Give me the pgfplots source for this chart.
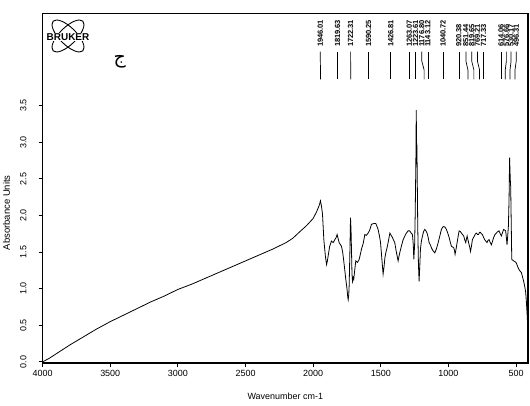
\documentclass[border=0pt]{standalone}
\usepackage{fontspec}
\setmainfont{Liberation Sans}
\TeXXeTstate=1
\newfontfamily\arabicfont[Script=Arabic]{DejaVu Sans}
\usepackage{pgfplots}
\usepackage{pgfplotstable}
\pgfplotsset{compat=1.18}

\pgfplotstableread{
wn A
4000 0.00
3950 0.05
3900 0.11
3800 0.23
3700 0.34
3600 0.45
3500 0.55
3400 0.64
3300 0.73
3200 0.82
3100 0.90
3000 0.99
2900 1.06
2800 1.14
2700 1.22
2600 1.30
2500 1.38
2400 1.46
2300 1.54
2200 1.63
2150 1.69
2098 1.78
2050 1.86
2025 1.91
2000 1.96
1975 2.05
1955 2.14
1946 2.20
1938 2.12
1931 2.02
1921 1.67
1910 1.45
1901 1.33
1895 1.38
1889 1.45
1878 1.58
1865 1.65
1852 1.63
1840 1.67
1830 1.70
1823 1.74
1815 1.68
1808 1.63
1791 1.58
1782 1.50
1774 1.38
1766 1.25
1759 1.13
1750 1.00
1744 0.88
1741 0.85
1737 0.92
1734 1.04
1728 1.55
1724 1.97
1720 1.80
1717 1.55
1713 1.20
1709 1.10
1704 1.15
1700 1.13
1693 1.25
1685 1.38
1672 1.36
1660 1.40
1650 1.48
1643 1.54
1630 1.62
1618 1.74
1606 1.73
1594 1.76
1582 1.80
1569 1.88
1552 1.89
1537 1.89
1528 1.85
1520 1.81
1510 1.72
1502 1.63
1492 1.40
1483 1.20
1476 1.30
1470 1.42
1463 1.49
1455 1.55
1446 1.63
1439 1.70
1433 1.76
1424 1.73
1414 1.70
1405 1.66
1397 1.63
1385 1.50
1372 1.38
1366 1.44
1360 1.49
1348 1.58
1335 1.67
1322 1.72
1311 1.76
1298 1.79
1286 1.79
1276 1.76
1266 1.74
1260 1.60
1256 1.40
1250 1.60
1246 2.00
1241 2.70
1238 3.44
1236 3.00
1233 2.95
1230 2.40
1227 1.85
1222 1.35
1217 1.10
1212 1.30
1207 1.54
1200 1.65
1192 1.72
1184 1.78
1175 1.81
1166 1.79
1158 1.76
1150 1.70
1143 1.63
1134 1.60
1126 1.56
1115 1.52
1101 1.49
1088 1.55
1076 1.63
1064 1.72
1052 1.81
1043 1.84
1035 1.85
1025 1.84
1015 1.81
1005 1.76
995 1.70
987 1.64
978 1.58
970 1.57
961 1.56
955 1.52
951 1.47
944 1.54
936 1.63
928 1.72
921 1.79
912 1.78
904 1.76
896 1.74
887 1.72
880 1.67
872 1.63
867 1.68
862 1.72
855 1.66
847 1.60
842 1.56
837 1.51
830 1.58
823 1.67
815 1.70
808 1.72
800 1.75
793 1.76
785 1.74
778 1.74
770 1.77
764 1.77
756 1.75
749 1.74
740 1.70
732 1.67
724 1.65
715 1.63
708 1.66
700 1.67
691 1.63
683 1.60
674 1.65
666 1.70
656 1.74
646 1.76
636 1.78
626 1.79
617 1.75
609 1.72
600 1.77
592 1.81
584 1.80
577 1.79
572 1.70
567 1.60
562 1.72
557 1.85
552 2.22
548 2.79
545 2.60
542 2.45
540 2.40
536 1.90
532 1.40
525 1.39
518 1.38
508 1.37
498 1.35
488 1.30
478 1.26
470 1.24
461 1.22
452 1.16
444 1.10
436 1.03
429 0.95
424 0.82
419 0.67
415 0.52
412 0.42
}\spectrum

\newcommand{\pk}[3]{%
  \draw[line width=0.7pt] (axis cs:#2,4.24) -- (axis cs:#2,4.11) -- (axis cs:#3,3.99) -- (axis cs:#3,3.86);
  \node[rotate=90,anchor=west,inner sep=0pt,font=\fontsize{7.5}{8}\selectfont\bfseries] at (axis cs:#2,4.30) {#1};
}

\begin{document}
\begin{tikzpicture}
\begin{axis}[
  scale only axis,
  width=485.4bp, height=349.5bp,
  x dir=reverse,
  xmin=412, xmax=4000,
  ymin=-0.015, ymax=4.76,
  xtick={500,1000,...,4000},
  ytick={0,0.5,...,3.5},
  axis line style={line width=1.2pt},
  tick align=outside,
  major tick length=4bp,
  tick style={line width=0.9pt, black},
  xtick pos=bottom, ytick pos=left,
  clip=false,
  font=\fontsize{9}{10}\selectfont,
  /pgf/number format/assume math mode=true,
  /pgf/number format/.cd, 1000 sep={},
  /pgfplots/.cd,
  yticklabel style={/pgf/number format/.cd, fixed, fixed zerofill, precision=1, /tikz/.cd, rotate=90, anchor=south, inner xsep=1pt, inner ysep=12bp},
  xlabel={Wavenumber cm-1},
  xlabel style={font=\fontsize{9}{10}\selectfont, at={(axis description cs:0.5,0)}, anchor=north, yshift=-26bp},
  ylabel={Absorbance Units},
  ylabel style={font=\fontsize{9.5}{10}\selectfont, at={([xshift=-29bp]axis description cs:0,0.43)}, anchor=south},
]
\addplot[black, line width=0.8pt] table[x=wn, y=A] {\spectrum};

\pk{1946.01}{1947}{1946}
\pk{1819.63}{1820}{1820}
\pk{1722.31}{1723}{1722}
\pk{1590.25}{1590}{1590}
\pk{1426.81}{1427}{1427}
\pk{1263.07}{1289}{1289}
\pk{1223.61}{1244}{1244}
\pk{1176.80}{1197}{1180}
\pk{1143.12}{1152}{1152}
\pk{1040.72}{1040}{1040}
\pk{920.38}{923}{923}
\pk{851.44}{871}{856}
\pk{819.65}{828}{812}
\pk{769.21}{786}{770}
\pk{717.33}{741}{741}
\pk{614.06}{612}{612}
\pk{576.66}{572}{580}
\pk{530.17}{537}{545}
\pk{496.31}{499}{508}

\node[font=\arabicfont\fontsize{19}{20}\selectfont] at (axis cs:3430,4.10) {\beginR ج\endR};
\end{axis}
% Bruker logo
\begin{scope}[shift={([shift={(25.4bp,-22.5bp)}]current axis.north west)}]
  \draw[line width=0.9pt, rotate=45] (0,0) ellipse (21bp and 8.5bp);
  \draw[line width=0.9pt, rotate=-45] (0,0) ellipse (21bp and 8.5bp);
  \node[fill=white, inner sep=0.3pt, font=\fontsize{10}{11}\selectfont\bfseries] at (0,-1bp) {BRUKER};
\end{scope}
\pgfresetboundingbox
\path ([shift={(-42.6bp,-43bp)}]current axis.south west) rectangle ([shift={(2bp,13.5bp)}]current axis.north east);
\end{tikzpicture}
\end{document}
